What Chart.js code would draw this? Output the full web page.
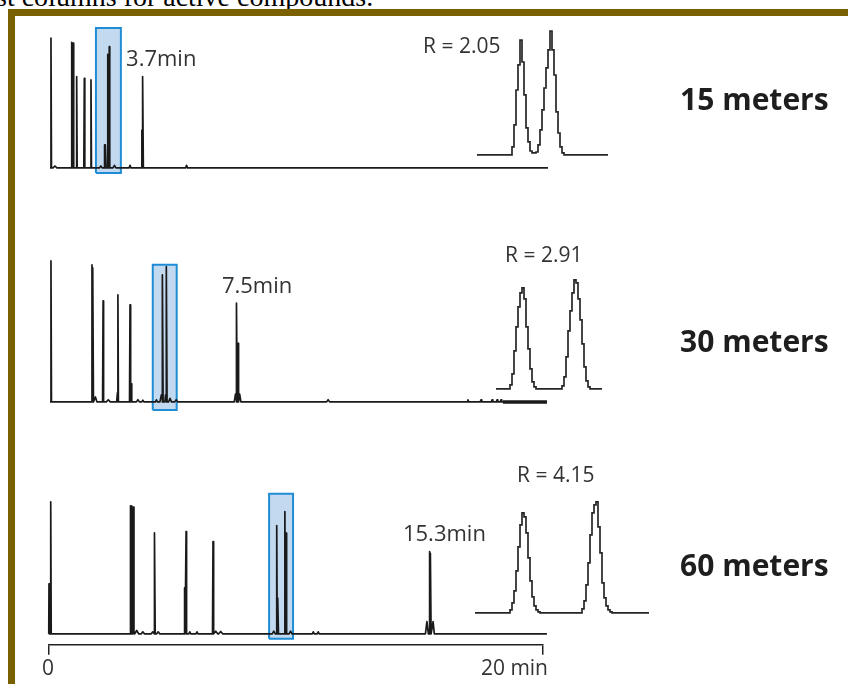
<!DOCTYPE html>
<html lang="en">
<head>
    <meta charset="UTF-8">
    <title>Column length vs. resolution</title>
    <script src="https://cdn.jsdelivr.net/npm/chart.js"></script>
    <style>
        html, body {
            margin: 0;
            padding: 0;
            width: 848px;
            height: 684px;
            overflow: hidden;
            background: #ffffff;
        }

        #caption {
            position: absolute;
            top: -17px;
            left: -4px;
            font-family: "Liberation Serif", serif;
            font-size: 28px;
            line-height: 28px;
            color: #000;
            white-space: nowrap;
        }

        #frame {
            position: absolute;
            left: 8px;
            top: 9px;
            right: 0;
            bottom: 0;
            border-top: 7px solid #7b6000;
            border-left: 7px solid #7b6000;
        }

        #chart {
            position: absolute;
            left: 0;
            top: 0;
        }
    </style>
</head>
<body>
    <div id="caption">st columns for active compounds.</div>
    <div id="frame"></div>
    <canvas id="chart" width="848" height="684"></canvas>

    <script>
        // time axis ticks (minutes)
        const minuteTicks = [0, 20];

        // column lengths, last-peak times and resolution of the critical pair
        const columnLengths = [15, 30, 60];
        const lastPeak = [3.7, 7.5, 15.3];
        const resolution = ['2.05', '2.91', '4.15'];

        // 15 m column: retention time (min), relative height (%), half width (min)
        const rt15 = [0.08, 0.24, 0.92, 0.98, 1.12, 1.43, 1.70, 2.10, 2.25, 2.29, 2.38, 2.44, 2.65, 3.28, 3.76, 3.80, 5.57];
        const ht15 = [100, 1.5, 96.7, 96, 70.2, 69, 67.7, 1.5, 17.7, 17.7, 87.5, 93.3, 2, 2, 29.2, 70.2, 2];
        const wd15 = [0.02, 0.08, 0.02, 0.02, 0.02, 0.02, 0.02, 0.06, 0.02, 0.02, 0.02, 0.02, 0.06, 0.04, 0.02, 0.02, 0.04];

        // 30 m column
        const rt30 = [0.08, 1.74, 1.78, 1.88, 2.19, 2.40, 2.77, 2.79, 3.28, 3.33, 3.60, 3.80, 4.35, 4.55, 4.60, 4.72, 4.76, 4.90, 5.15, 7.55, 7.60, 7.66, 7.72, 11.30, 16.96, 17.49, 17.94, 18.14, 18.30];
        const ht30 = [100, 97.2, 95, 3.5, 71.6, 1.5, 6.4, 75.9, 68.8, 12.8, 1.5, 1.2, 1.5, 5, 90.1, 5, 96, 2.5, 1.5, 5.5, 70, 41.6, 5.5, 1.5, 1.5, 1.5, 1.5, 1.5, 1.5];
        const wd30 = [0.02, 0.02, 0.02, 0.06, 0.02, 0.08, 0.03, 0.02, 0.02, 0.02, 0.06, 0.04, 0.04, 0.06, 0.02, 0.03, 0.02, 0.06, 0.06, 0.05, 0.02, 0.02, 0.05, 0.06, 0.03, 0.03, 0.03, 0.03, 0.03];
        const noiseWindow30 = [18.38, 20.16];

        // 60 m column
        const rt60 = [0.00, 0.07, 3.30, 3.36, 3.42, 3.55, 3.80, 4.20, 4.28, 4.42, 5.49, 5.55, 5.70, 5.99, 6.64, 6.75, 6.95, 9.10, 9.22, 9.27, 9.55, 9.60, 9.78, 10.70, 10.90, 15.30, 15.41, 15.45, 15.55];
        const ht60 = [37.9, 100, 97, 97, 96, 2.5, 1.5, 1.5, 76.5, 1.5, 34.8, 77.5, 1.5, 1.5, 69.9, 2, 1.8, 2, 82, 27, 92.7, 76.3, 2, 1.5, 1.5, 9.3, 62.3, 61, 9.3];
        const wd60 = [0.01, 0.02, 0.02, 0.02, 0.02, 0.08, 0.06, 0.06, 0.02, 0.06, 0.02, 0.02, 0.04, 0.04, 0.02, 0.08, 0.08, 0.06, 0.02, 0.02, 0.02, 0.02, 0.06, 0.04, 0.04, 0.06, 0.02, 0.02, 0.05];

        // trace start / end (min)
        const span15 = [0.04, 20.2];
        const span30 = [0.04, 20.16];
        const span60 = [-0.04, 20.16];

        // highlighted critical pair windows (min)
        const pairWindow15 = [1.90, 2.91];
        const pairWindow30 = [4.20, 5.17];
        const pairWindow60 = [8.91, 9.88];

        // zoomed critical pair: detector samples (inset time units) and response (%)
        const insetT15 = [1, 18, 19, 20, 21, 22, 23, 24, 25, 26, 27, 28, 29, 30, 31, 32, 33, 34, 35, 36, 37, 38, 39, 40, 41, 42, 43, 44, 45, 66.5];
        const insetR15 = [0, 0, 6.5, 24.2, 52.4, 72.6, 92.7, 75, 48.4, 21.8, 10.5, 3.2, 1.6, 1.6, 2.4, 8.1, 20.2, 36.3, 54, 70.2, 84.7, 100, 84.7, 64.5, 34.7, 17.7, 6.5, 1.6, 0, 0];

        const insetT30 = [10.5, 17, 18, 19, 20, 21, 22, 23, 24, 25, 26, 27, 28, 29, 30, 31, 43, 44, 45, 46, 47, 48, 49, 50, 51, 52, 53, 54, 55, 56, 57, 58, 63.5];
        const insetR30 = [0, 0, 3.7, 13.8, 34.9, 56.9, 75.2, 88.1, 92.7, 82.6, 56.9, 36.7, 18.3, 6.4, 1.8, 0, 0, 2.8, 11, 29.4, 53.2, 71.6, 88.1, 100, 97.2, 82.6, 63.3, 41.3, 20.2, 7.3, 1.8, 0, 0];

        const insetT60 = [0, 17, 18, 19, 20, 21, 22, 23, 24, 25, 26, 27, 28, 29, 30, 31, 32, 33, 53, 54, 55, 56, 57, 58, 59, 60, 61, 62, 63, 64, 65, 66, 67, 68, 69, 87];
        const insetR60 = [0, 0, 2.7, 9, 19.8, 37.8, 59.5, 79.3, 90.1, 86.5, 72.1, 49.5, 28.8, 14.4, 6.3, 2.7, 0.9, 0, 0, 3.6, 10.8, 25.2, 45, 70.3, 90.1, 97.3, 100, 77.5, 54, 27, 13.5, 6.3, 2.7, 0.9, 0, 0];

        // ---- layout (pixels) ----
        const AREA = { left: 49, right: 543, top: 0, bottom: 645 };
        const INSET_ORIGIN = 475;   // pixel of inset time 0
        const INSET_PX = 2;         // pixels per inset time unit

        // value 0 at basePx, value 100 at fullPx
        function yBounds(basePx, fullPx) {
            const k = (basePx - fullPx) / 100;
            return { min: -(AREA.bottom - basePx) / k, max: (basePx - AREA.top) / k };
        }

        function chromatogram(span, times, heights, widths) {
            const pts = [{ x: span[0], y: 0 }];
            times.forEach((t, i) => {
                const w = widths[i];
                pts.push({ x: t - w, y: 0 }, { x: t, y: heights[i] }, { x: t + w, y: 0 });
            });
            pts.push({ x: span[1], y: 0 });
            return pts;
        }

        function samples(times, values) {
            return times.map((t, i) => ({ x: t, y: values[i] }));
        }

        function boxOutline(win, bottom, top) {
            return [
                { x: win[0], y: bottom }, { x: win[0], y: top },
                { x: win[1], y: top }, { x: win[1], y: bottom },
                { x: win[0], y: bottom }
            ];
        }

        const traceStyle = {
            type: 'line',
            xAxisID: 'x',
            borderColor: '#1a1a1a',
            borderWidth: 1.7,
            borderJoinStyle: 'round',
            pointRadius: 0,
            fill: false,
            clip: false
        };

        const insetStyle = {
            type: 'line',
            xAxisID: 'xi',
            borderColor: '#262626',
            borderWidth: 1.7,
            stepped: 'middle',
            pointRadius: 0,
            fill: false,
            clip: false
        };

        // light blue band behind the critical pair, and its outline
        function windowDatasets(name, axis, win, bottom, top) {
            return [
                {
                    type: 'line', label: name + ' outline', xAxisID: 'x', yAxisID: axis,
                    data: boxOutline(win, bottom, top),
                    borderColor: '#1f8dd6', borderWidth: 2, pointRadius: 0, fill: false
                },
                {
                    type: 'line', label: name + ' band', xAxisID: 'x', yAxisID: axis,
                    data: win.map(t => ({ x: t, y: top })),
                    borderWidth: 0, pointRadius: 0,
                    backgroundColor: '#c2d9f0',
                    fill: { value: bottom }
                }
            ];
        }

        // text placed in data units of the given scales
        const annotations = [
            { text: lastPeak[0] + 'min', x: 3.12, y: 83.1, xs: 'x', ys: 'y15', font: '22px "Open Sans"' },
            { text: lastPeak[1] + 'min', x: 7.0, y: 81.9, xs: 'x', ys: 'y30', font: '22px "Open Sans"' },
            { text: lastPeak[2] + 'min', x: 14.33, y: 75, xs: 'x', ys: 'y60', font: '22px "Open Sans"' },
            { text: 'R = ' + resolution[0], x: -26, y: 87.1, xs: 'xi', ys: 'yi15', font: '21px "Open Sans"' },
            { text: 'R = ' + resolution[1], x: 15, y: 121.6, xs: 'xi', ys: 'yi30', font: '21px "Open Sans"' },
            { text: 'R = ' + resolution[2], x: 21, y: 123.4, xs: 'xi', ys: 'yi60', font: '21px "Open Sans"' },
            { text: columnLengths[0] + ' meters', x: 25.55, y: 51.2, xs: 'x', ys: 'y15', font: 'bold 30px "Open Sans"', color: '#1e1e1e' },
            { text: columnLengths[1] + ' meters', x: 25.55, y: 41.8, xs: 'x', ys: 'y30', font: 'bold 30px "Open Sans"', color: '#1e1e1e' },
            { text: columnLengths[2] + ' meters', x: 25.55, y: 50, xs: 'x', ys: 'y60', font: 'bold 30px "Open Sans"', color: '#1e1e1e' }
        ];

        const annotationPlugin = {
            id: 'annotations',
            afterDatasetsDraw(chart) {
                const ctx = chart.ctx;
                ctx.save();
                ctx.textAlign = 'left';
                ctx.textBaseline = 'middle';
                annotations.forEach(a => {
                    ctx.font = a.font;
                    ctx.fillStyle = a.color || '#333333';
                    ctx.fillText(a.text,
                        chart.scales[a.xs].getPixelForValue(a.x),
                        chart.scales[a.ys].getPixelForValue(a.y));
                });
                ctx.restore();
            }
        };

        const b15 = yBounds(168, 38);
        const b30 = yBounds(402, 261);
        const b60 = yBounds(634, 502);

        const ctx = document.getElementById('chart').getContext('2d');
        window.resolutionChart = new Chart(ctx, {
            type: 'line',
            data: {
                datasets: [
                    { ...traceStyle, label: '15 m', yAxisID: 'y15', data: chromatogram(span15, rt15, ht15, wd15) },
                    { ...traceStyle, label: '30 m', yAxisID: 'y30', data: chromatogram(span30, rt30, ht30, wd30) },
                    { ...traceStyle, label: '30 m noise', yAxisID: 'y30', borderWidth: 3.5,
                      data: noiseWindow30.map(t => ({ x: t, y: 0 })) },
                    { ...traceStyle, label: '60 m', yAxisID: 'y60', data: chromatogram(span60, rt60, ht60, wd60) },
                    { ...insetStyle, label: '15 m pair', yAxisID: 'yi15', data: samples(insetT15, insetR15) },
                    { ...insetStyle, label: '30 m pair', yAxisID: 'yi30', data: samples(insetT30, insetR30) },
                    { ...insetStyle, label: '60 m pair', yAxisID: 'yi60', data: samples(insetT60, insetR60) },
                    ...windowDatasets('15 m window', 'y15', pairWindow15, -3.8, 107.7),
                    ...windowDatasets('30 m window', 'y30', pairWindow30, -5.7, 97.2),
                    ...windowDatasets('60 m window', 'y60', pairWindow60, -3.8, 106.1)
                ]
            },
            options: {
                responsive: false,
                animation: false,
                layout: {
                    padding: { left: AREA.left, right: 848 - AREA.right, top: AREA.top, bottom: 0 }
                },
                plugins: {
                    legend: { display: false },
                    tooltip: { enabled: false },
                    filler: { propagate: false }
                },
                scales: {
                    x: {
                        type: 'linear',
                        position: 'bottom',
                        min: minuteTicks[0],
                        max: minuteTicks[1],
                        border: { display: true, color: '#222222', width: 1.5 },
                        grid: {
                            drawOnChartArea: false,
                            drawTicks: true,
                            tickLength: 10,
                            color: '#222222',
                            lineWidth: 1.5
                        },
                        afterBuildTicks: scale => {
                            scale.ticks = minuteTicks.map(v => ({ value: v }));
                        },
                        ticks: {
                            align: 'end',
                            labelOffset: 5,
                            padding: 2,
                            maxRotation: 0,
                            color: '#333333',
                            font: { family: 'Open Sans', size: 21 },
                            callback: v => v === minuteTicks[1] ? v + ' min' : String(v)
                        }
                    },
                    xi: {
                        type: 'linear',
                        axis: 'x',
                        display: false,
                        bounds: 'data',
                        afterDataLimits: scale => {
                            scale.min = (AREA.left - INSET_ORIGIN) / INSET_PX;
                            scale.max = (AREA.right - INSET_ORIGIN) / INSET_PX;
                        }
                    },
                    y15: { type: 'linear', axis: 'y', display: false, bounds: 'data', min: b15.min, max: b15.max },
                    y30: { type: 'linear', axis: 'y', display: false, bounds: 'data', min: b30.min, max: b30.max },
                    y60: { type: 'linear', axis: 'y', display: false, bounds: 'data', min: b60.min, max: b60.max },
                    yi15: { type: 'linear', axis: 'y', display: false, bounds: 'data', ...yBounds(155, 31) },
                    yi30: { type: 'linear', axis: 'y', display: false, bounds: 'data', ...yBounds(389, 280) },
                    yi60: { type: 'linear', axis: 'y', display: false, bounds: 'data', ...yBounds(613, 502) }
                }
            },
            plugins: [annotationPlugin]
        });
    </script>
</body>
</html>
